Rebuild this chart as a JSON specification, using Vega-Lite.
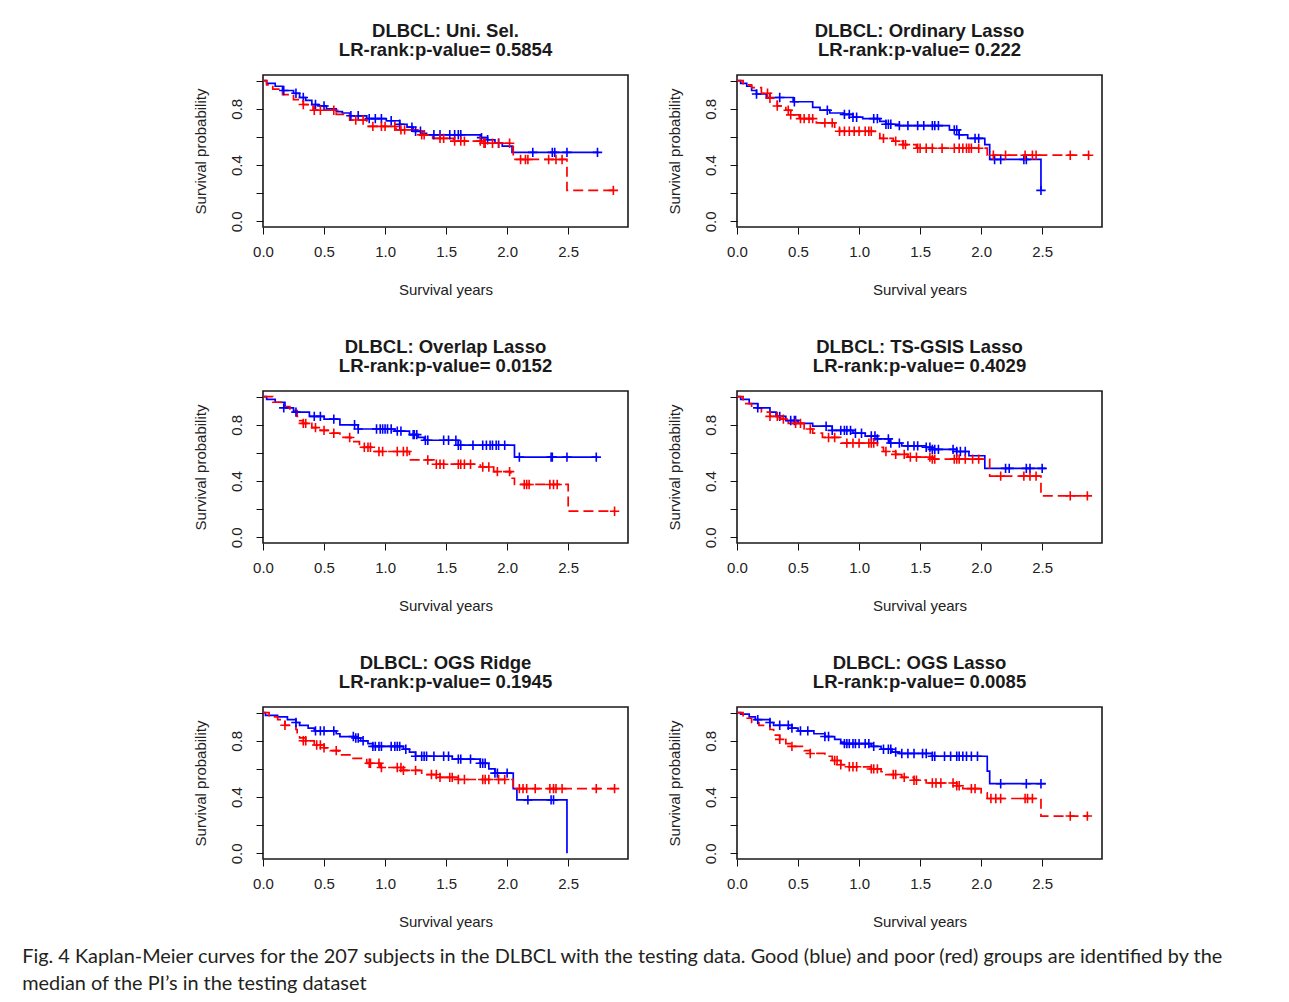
{
  "$schema": "https://vega.github.io/schema/vega-lite/v6.json",
  "background": "white",
  "padding": {"left": 22, "top": 21, "right": 5, "bottom": 10},
  "title": {
    "text": ["Fig. 4 Kaplan-Meier curves for the 207 subjects in the DLBCL with the testing data. Good (blue) and poor (red) groups are identified by the", "median of the PI’s in the testing dataset"],
    "orient": "bottom", "anchor": "start", "frame": "bounds", "dx": -170.5, "offset": 17,
    "font": "Lato", "fontSize": 19.9, "fontWeight": "normal", "color": "#231f20", "lineHeight": 27
  },
  "datasets": {
    "km": [
      {"p":"A","g":"G","t":0,"s":1},{"p":"A","g":"G","t":0.03,"s":0.98},{"p":"A","g":"G","t":0.1,"s":0.96},{"p":"A","g":"G","t":0.16,"s":0.93},{"p":"A","g":"G","t":0.25,"s":0.91},{"p":"A","g":"G","t":0.3,"s":0.88},{"p":"A","g":"G","t":0.35,"s":0.86},{"p":"A","g":"G","t":0.4,"s":0.83},{"p":"A","g":"G","t":0.45,"s":0.82},{"p":"A","g":"G","t":0.52,"s":0.8},{"p":"A","g":"G","t":0.6,"s":0.78},{"p":"A","g":"G","t":0.65,"s":0.77},{"p":"A","g":"G","t":0.71,"s":0.75},{"p":"A","g":"G","t":0.85,"s":0.73},{"p":"A","g":"G","t":1.01,"s":0.715},{"p":"A","g":"G","t":1.12,"s":0.69},{"p":"A","g":"G","t":1.18,"s":0.67},{"p":"A","g":"G","t":1.23,"s":0.64},{"p":"A","g":"G","t":1.3,"s":0.625},{"p":"A","g":"G","t":1.34,"s":0.615},{"p":"A","g":"G","t":1.78,"s":0.595},{"p":"A","g":"G","t":1.84,"s":0.58},{"p":"A","g":"G","t":1.9,"s":0.555},{"p":"A","g":"G","t":1.96,"s":0.535},{"p":"A","g":"G","t":2.04,"s":0.49},{"p":"A","g":"G","t":2.75,"s":0.49},
      {"p":"A","g":"P","t":0,"s":1},{"p":"A","g":"P","t":0.03,"s":0.97},{"p":"A","g":"P","t":0.08,"s":0.94},{"p":"A","g":"P","t":0.16,"s":0.9},{"p":"A","g":"P","t":0.25,"s":0.865},{"p":"A","g":"P","t":0.33,"s":0.83},{"p":"A","g":"P","t":0.41,"s":0.79},{"p":"A","g":"P","t":0.6,"s":0.76},{"p":"A","g":"P","t":0.71,"s":0.72},{"p":"A","g":"P","t":0.85,"s":0.675},{"p":"A","g":"P","t":1.09,"s":0.65},{"p":"A","g":"P","t":1.28,"s":0.615},{"p":"A","g":"P","t":1.39,"s":0.59},{"p":"A","g":"P","t":1.56,"s":0.57},{"p":"A","g":"P","t":1.8,"s":0.555},{"p":"A","g":"P","t":2.05,"s":0.44},{"p":"A","g":"P","t":2.49,"s":0.22},{"p":"A","g":"P","t":2.87,"s":0.22},
      {"p":"B","g":"G","t":0,"s":1},{"p":"B","g":"G","t":0.03,"s":0.98},{"p":"B","g":"G","t":0.08,"s":0.96},{"p":"B","g":"G","t":0.12,"s":0.93},{"p":"B","g":"G","t":0.16,"s":0.905},{"p":"B","g":"G","t":0.24,"s":0.88},{"p":"B","g":"G","t":0.46,"s":0.85},{"p":"B","g":"G","t":0.62,"s":0.81},{"p":"B","g":"G","t":0.68,"s":0.79},{"p":"B","g":"G","t":0.76,"s":0.77},{"p":"B","g":"G","t":0.87,"s":0.76},{"p":"B","g":"G","t":0.95,"s":0.74},{"p":"B","g":"G","t":1.03,"s":0.73},{"p":"B","g":"G","t":1.17,"s":0.71},{"p":"B","g":"G","t":1.22,"s":0.69},{"p":"B","g":"G","t":1.33,"s":0.68},{"p":"B","g":"G","t":1.74,"s":0.65},{"p":"B","g":"G","t":1.82,"s":0.615},{"p":"B","g":"G","t":1.89,"s":0.59},{"p":"B","g":"G","t":2.03,"s":0.545},{"p":"B","g":"G","t":2.07,"s":0.44},{"p":"B","g":"G","t":2.49,"s":0.22},
      {"p":"B","g":"P","t":0,"s":1},{"p":"B","g":"P","t":0.05,"s":0.97},{"p":"B","g":"P","t":0.12,"s":0.95},{"p":"B","g":"P","t":0.2,"s":0.91},{"p":"B","g":"P","t":0.27,"s":0.875},{"p":"B","g":"P","t":0.33,"s":0.82},{"p":"B","g":"P","t":0.4,"s":0.79},{"p":"B","g":"P","t":0.44,"s":0.757},{"p":"B","g":"P","t":0.51,"s":0.73},{"p":"B","g":"P","t":0.65,"s":0.7},{"p":"B","g":"P","t":0.8,"s":0.67},{"p":"B","g":"P","t":0.84,"s":0.64},{"p":"B","g":"P","t":1.17,"s":0.59},{"p":"B","g":"P","t":1.28,"s":0.57},{"p":"B","g":"P","t":1.36,"s":0.545},{"p":"B","g":"P","t":1.47,"s":0.52},{"p":"B","g":"P","t":2.05,"s":0.47},{"p":"B","g":"P","t":2.88,"s":0.47},
      {"p":"C","g":"G","t":0,"s":1},{"p":"C","g":"G","t":0.03,"s":0.98},{"p":"C","g":"G","t":0.1,"s":0.96},{"p":"C","g":"G","t":0.18,"s":0.92},{"p":"C","g":"G","t":0.25,"s":0.89},{"p":"C","g":"G","t":0.38,"s":0.86},{"p":"C","g":"G","t":0.5,"s":0.84},{"p":"C","g":"G","t":0.63,"s":0.8},{"p":"C","g":"G","t":0.78,"s":0.77},{"p":"C","g":"G","t":1.08,"s":0.755},{"p":"C","g":"G","t":1.2,"s":0.73},{"p":"C","g":"G","t":1.27,"s":0.71},{"p":"C","g":"G","t":1.32,"s":0.69},{"p":"C","g":"G","t":1.6,"s":0.655},{"p":"C","g":"G","t":2.06,"s":0.57},{"p":"C","g":"G","t":2.74,"s":0.57},
      {"p":"C","g":"P","t":0,"s":1},{"p":"C","g":"P","t":0.08,"s":0.96},{"p":"C","g":"P","t":0.15,"s":0.93},{"p":"C","g":"P","t":0.22,"s":0.9},{"p":"C","g":"P","t":0.28,"s":0.86},{"p":"C","g":"P","t":0.3,"s":0.83},{"p":"C","g":"P","t":0.33,"s":0.81},{"p":"C","g":"P","t":0.4,"s":0.78},{"p":"C","g":"P","t":0.47,"s":0.76},{"p":"C","g":"P","t":0.55,"s":0.74},{"p":"C","g":"P","t":0.63,"s":0.71},{"p":"C","g":"P","t":0.72,"s":0.68},{"p":"C","g":"P","t":0.79,"s":0.64},{"p":"C","g":"P","t":0.9,"s":0.61},{"p":"C","g":"P","t":1.2,"s":0.55},{"p":"C","g":"P","t":1.4,"s":0.52},{"p":"C","g":"P","t":1.78,"s":0.5},{"p":"C","g":"P","t":1.89,"s":0.467},{"p":"C","g":"P","t":2.03,"s":0.42},{"p":"C","g":"P","t":2.06,"s":0.376},{"p":"C","g":"P","t":2.5,"s":0.186},{"p":"C","g":"P","t":2.88,"s":0.186},
      {"p":"D","g":"G","t":0,"s":1},{"p":"D","g":"G","t":0.03,"s":0.98},{"p":"D","g":"G","t":0.1,"s":0.95},{"p":"D","g":"G","t":0.17,"s":0.92},{"p":"D","g":"G","t":0.27,"s":0.89},{"p":"D","g":"G","t":0.32,"s":0.86},{"p":"D","g":"G","t":0.4,"s":0.83},{"p":"D","g":"G","t":0.5,"s":0.81},{"p":"D","g":"G","t":0.62,"s":0.79},{"p":"D","g":"G","t":0.78,"s":0.76},{"p":"D","g":"G","t":0.95,"s":0.74},{"p":"D","g":"G","t":1.05,"s":0.72},{"p":"D","g":"G","t":1.15,"s":0.7},{"p":"D","g":"G","t":1.25,"s":0.67},{"p":"D","g":"G","t":1.35,"s":0.65},{"p":"D","g":"G","t":1.55,"s":0.64},{"p":"D","g":"G","t":1.6,"s":0.625},{"p":"D","g":"G","t":1.8,"s":0.61},{"p":"D","g":"G","t":1.9,"s":0.58},{"p":"D","g":"G","t":2.03,"s":0.49},{"p":"D","g":"G","t":2.53,"s":0.49},
      {"p":"D","g":"P","t":0,"s":1},{"p":"D","g":"P","t":0.05,"s":0.95},{"p":"D","g":"P","t":0.12,"s":0.92},{"p":"D","g":"P","t":0.2,"s":0.89},{"p":"D","g":"P","t":0.27,"s":0.86},{"p":"D","g":"P","t":0.35,"s":0.84},{"p":"D","g":"P","t":0.42,"s":0.81},{"p":"D","g":"P","t":0.55,"s":0.77},{"p":"D","g":"P","t":0.62,"s":0.74},{"p":"D","g":"P","t":0.7,"s":0.71},{"p":"D","g":"P","t":0.85,"s":0.67},{"p":"D","g":"P","t":1.15,"s":0.64},{"p":"D","g":"P","t":1.2,"s":0.61},{"p":"D","g":"P","t":1.3,"s":0.59},{"p":"D","g":"P","t":1.4,"s":0.57},{"p":"D","g":"P","t":1.6,"s":0.556},{"p":"D","g":"P","t":2.07,"s":0.435},{"p":"D","g":"P","t":2.49,"s":0.295},{"p":"D","g":"P","t":2.87,"s":0.295},
      {"p":"E","g":"G","t":0,"s":1},{"p":"E","g":"G","t":0.02,"s":0.98},{"p":"E","g":"G","t":0.12,"s":0.97},{"p":"E","g":"G","t":0.2,"s":0.95},{"p":"E","g":"G","t":0.27,"s":0.93},{"p":"E","g":"G","t":0.3,"s":0.91},{"p":"E","g":"G","t":0.37,"s":0.89},{"p":"E","g":"G","t":0.42,"s":0.87},{"p":"E","g":"G","t":0.6,"s":0.85},{"p":"E","g":"G","t":0.63,"s":0.83},{"p":"E","g":"G","t":0.75,"s":0.82},{"p":"E","g":"G","t":0.8,"s":0.8},{"p":"E","g":"G","t":0.86,"s":0.78},{"p":"E","g":"G","t":0.9,"s":0.76},{"p":"E","g":"G","t":1.15,"s":0.74},{"p":"E","g":"G","t":1.2,"s":0.72},{"p":"E","g":"G","t":1.25,"s":0.69},{"p":"E","g":"G","t":1.55,"s":0.67},{"p":"E","g":"G","t":1.78,"s":0.64},{"p":"E","g":"G","t":1.85,"s":0.6},{"p":"E","g":"G","t":1.9,"s":0.57},{"p":"E","g":"G","t":2.05,"s":0.46},{"p":"E","g":"G","t":2.08,"s":0.38},{"p":"E","g":"G","t":2.49,"s":0},
      {"p":"E","g":"P","t":0,"s":1},{"p":"E","g":"P","t":0.05,"s":0.97},{"p":"E","g":"P","t":0.12,"s":0.95},{"p":"E","g":"P","t":0.18,"s":0.91},{"p":"E","g":"P","t":0.27,"s":0.88},{"p":"E","g":"P","t":0.28,"s":0.85},{"p":"E","g":"P","t":0.3,"s":0.82},{"p":"E","g":"P","t":0.35,"s":0.8},{"p":"E","g":"P","t":0.42,"s":0.77},{"p":"E","g":"P","t":0.5,"s":0.75},{"p":"E","g":"P","t":0.55,"s":0.73},{"p":"E","g":"P","t":0.62,"s":0.7},{"p":"E","g":"P","t":0.72,"s":0.675},{"p":"E","g":"P","t":0.85,"s":0.64},{"p":"E","g":"P","t":0.96,"s":0.61},{"p":"E","g":"P","t":1.15,"s":0.59},{"p":"E","g":"P","t":1.3,"s":0.56},{"p":"E","g":"P","t":1.45,"s":0.54},{"p":"E","g":"P","t":1.6,"s":0.525},{"p":"E","g":"P","t":2.05,"s":0.46},{"p":"E","g":"P","t":2.88,"s":0.46},
      {"p":"F","g":"G","t":0,"s":1},{"p":"F","g":"G","t":0.03,"s":0.99},{"p":"F","g":"G","t":0.1,"s":0.97},{"p":"F","g":"G","t":0.15,"s":0.95},{"p":"F","g":"G","t":0.27,"s":0.93},{"p":"F","g":"G","t":0.3,"s":0.91},{"p":"F","g":"G","t":0.45,"s":0.89},{"p":"F","g":"G","t":0.5,"s":0.87},{"p":"F","g":"G","t":0.63,"s":0.85},{"p":"F","g":"G","t":0.72,"s":0.83},{"p":"F","g":"G","t":0.8,"s":0.81},{"p":"F","g":"G","t":0.85,"s":0.79},{"p":"F","g":"G","t":0.88,"s":0.78},{"p":"F","g":"G","t":1.1,"s":0.76},{"p":"F","g":"G","t":1.18,"s":0.74},{"p":"F","g":"G","t":1.27,"s":0.72},{"p":"F","g":"G","t":1.33,"s":0.71},{"p":"F","g":"G","t":1.6,"s":0.69},{"p":"F","g":"G","t":2.05,"s":0.585},{"p":"F","g":"G","t":2.07,"s":0.495},{"p":"F","g":"G","t":2.53,"s":0.495},
      {"p":"F","g":"P","t":0,"s":1},{"p":"F","g":"P","t":0.05,"s":0.96},{"p":"F","g":"P","t":0.12,"s":0.93},{"p":"F","g":"P","t":0.18,"s":0.91},{"p":"F","g":"P","t":0.27,"s":0.88},{"p":"F","g":"P","t":0.3,"s":0.84},{"p":"F","g":"P","t":0.35,"s":0.81},{"p":"F","g":"P","t":0.4,"s":0.78},{"p":"F","g":"P","t":0.45,"s":0.76},{"p":"F","g":"P","t":0.55,"s":0.73},{"p":"F","g":"P","t":0.6,"s":0.71},{"p":"F","g":"P","t":0.72,"s":0.69},{"p":"F","g":"P","t":0.78,"s":0.66},{"p":"F","g":"P","t":0.85,"s":0.63},{"p":"F","g":"P","t":0.9,"s":0.615},{"p":"F","g":"P","t":1.1,"s":0.6},{"p":"F","g":"P","t":1.18,"s":0.58},{"p":"F","g":"P","t":1.22,"s":0.56},{"p":"F","g":"P","t":1.35,"s":0.54},{"p":"F","g":"P","t":1.45,"s":0.52},{"p":"F","g":"P","t":1.55,"s":0.5},{"p":"F","g":"P","t":1.8,"s":0.48},{"p":"F","g":"P","t":1.85,"s":0.46},{"p":"F","g":"P","t":2.0,"s":0.43},{"p":"F","g":"P","t":2.05,"s":0.39},{"p":"F","g":"P","t":2.49,"s":0.265},{"p":"F","g":"P","t":2.88,"s":0.265}
    ],
    "cens": [
      {"p":"A","g":"G","t":0.17,"s":0.93},{"p":"A","g":"G","t":0.27,"s":0.91},{"p":"A","g":"G","t":0.33,"s":0.88},{"p":"A","g":"G","t":0.43,"s":0.83},{"p":"A","g":"G","t":0.5,"s":0.82},{"p":"A","g":"G","t":0.72,"s":0.75},{"p":"A","g":"G","t":0.78,"s":0.75},{"p":"A","g":"G","t":0.87,"s":0.73},{"p":"A","g":"G","t":0.92,"s":0.73},{"p":"A","g":"G","t":0.97,"s":0.73},{"p":"A","g":"G","t":1.05,"s":0.715},{"p":"A","g":"G","t":1.12,"s":0.69},{"p":"A","g":"G","t":1.22,"s":0.67},{"p":"A","g":"G","t":1.25,"s":0.64},{"p":"A","g":"G","t":1.29,"s":0.64},{"p":"A","g":"G","t":1.4,"s":0.615},{"p":"A","g":"G","t":1.45,"s":0.615},{"p":"A","g":"G","t":1.53,"s":0.615},{"p":"A","g":"G","t":1.57,"s":0.615},{"p":"A","g":"G","t":1.6,"s":0.615},{"p":"A","g":"G","t":1.62,"s":0.615},{"p":"A","g":"G","t":1.79,"s":0.595},{"p":"A","g":"G","t":1.84,"s":0.58},{"p":"A","g":"G","t":1.93,"s":0.555},{"p":"A","g":"G","t":2.21,"s":0.49},{"p":"A","g":"G","t":2.37,"s":0.49},{"p":"A","g":"G","t":2.39,"s":0.49},{"p":"A","g":"G","t":2.49,"s":0.49},{"p":"A","g":"G","t":2.74,"s":0.49},
      {"p":"A","g":"P","t":0.33,"s":0.83},{"p":"A","g":"P","t":0.42,"s":0.79},{"p":"A","g":"P","t":0.47,"s":0.79},{"p":"A","g":"P","t":0.58,"s":0.79},{"p":"A","g":"P","t":0.76,"s":0.72},{"p":"A","g":"P","t":0.82,"s":0.72},{"p":"A","g":"P","t":0.9,"s":0.675},{"p":"A","g":"P","t":0.97,"s":0.675},{"p":"A","g":"P","t":1.0,"s":0.675},{"p":"A","g":"P","t":1.08,"s":0.675},{"p":"A","g":"P","t":1.13,"s":0.65},{"p":"A","g":"P","t":1.16,"s":0.65},{"p":"A","g":"P","t":1.3,"s":0.615},{"p":"A","g":"P","t":1.32,"s":0.615},{"p":"A","g":"P","t":1.45,"s":0.59},{"p":"A","g":"P","t":1.48,"s":0.59},{"p":"A","g":"P","t":1.57,"s":0.57},{"p":"A","g":"P","t":1.62,"s":0.57},{"p":"A","g":"P","t":1.65,"s":0.57},{"p":"A","g":"P","t":1.78,"s":0.57},{"p":"A","g":"P","t":1.81,"s":0.555},{"p":"A","g":"P","t":1.82,"s":0.555},{"p":"A","g":"P","t":1.88,"s":0.555},{"p":"A","g":"P","t":1.93,"s":0.555},{"p":"A","g":"P","t":2.02,"s":0.555},{"p":"A","g":"P","t":2.11,"s":0.44},{"p":"A","g":"P","t":2.15,"s":0.44},{"p":"A","g":"P","t":2.17,"s":0.44},{"p":"A","g":"P","t":2.34,"s":0.44},{"p":"A","g":"P","t":2.4,"s":0.44},{"p":"A","g":"P","t":2.45,"s":0.44},{"p":"A","g":"P","t":2.87,"s":0.22},
      {"p":"B","g":"G","t":0.16,"s":0.905},{"p":"B","g":"G","t":0.35,"s":0.88},{"p":"B","g":"G","t":0.47,"s":0.85},{"p":"B","g":"G","t":0.74,"s":0.79},{"p":"B","g":"G","t":0.88,"s":0.76},{"p":"B","g":"G","t":0.92,"s":0.76},{"p":"B","g":"G","t":0.95,"s":0.74},{"p":"B","g":"G","t":0.98,"s":0.74},{"p":"B","g":"G","t":1.12,"s":0.73},{"p":"B","g":"G","t":1.15,"s":0.73},{"p":"B","g":"G","t":1.22,"s":0.69},{"p":"B","g":"G","t":1.24,"s":0.69},{"p":"B","g":"G","t":1.26,"s":0.69},{"p":"B","g":"G","t":1.33,"s":0.68},{"p":"B","g":"G","t":1.4,"s":0.68},{"p":"B","g":"G","t":1.48,"s":0.68},{"p":"B","g":"G","t":1.53,"s":0.68},{"p":"B","g":"G","t":1.6,"s":0.68},{"p":"B","g":"G","t":1.62,"s":0.68},{"p":"B","g":"G","t":1.65,"s":0.68},{"p":"B","g":"G","t":1.78,"s":0.65},{"p":"B","g":"G","t":1.8,"s":0.65},{"p":"B","g":"G","t":1.82,"s":0.615},{"p":"B","g":"G","t":1.95,"s":0.59},{"p":"B","g":"G","t":1.98,"s":0.59},{"p":"B","g":"G","t":2.11,"s":0.44},{"p":"B","g":"G","t":2.16,"s":0.44},{"p":"B","g":"G","t":2.35,"s":0.44},{"p":"B","g":"G","t":2.37,"s":0.44},{"p":"B","g":"G","t":2.49,"s":0.22},
      {"p":"B","g":"P","t":0.25,"s":0.91},{"p":"B","g":"P","t":0.27,"s":0.875},{"p":"B","g":"P","t":0.33,"s":0.82},{"p":"B","g":"P","t":0.42,"s":0.79},{"p":"B","g":"P","t":0.44,"s":0.757},{"p":"B","g":"P","t":0.52,"s":0.73},{"p":"B","g":"P","t":0.55,"s":0.73},{"p":"B","g":"P","t":0.59,"s":0.73},{"p":"B","g":"P","t":0.62,"s":0.73},{"p":"B","g":"P","t":0.72,"s":0.7},{"p":"B","g":"P","t":0.78,"s":0.7},{"p":"B","g":"P","t":0.84,"s":0.64},{"p":"B","g":"P","t":0.88,"s":0.64},{"p":"B","g":"P","t":0.92,"s":0.64},{"p":"B","g":"P","t":0.96,"s":0.64},{"p":"B","g":"P","t":1.0,"s":0.64},{"p":"B","g":"P","t":1.05,"s":0.64},{"p":"B","g":"P","t":1.08,"s":0.64},{"p":"B","g":"P","t":1.1,"s":0.64},{"p":"B","g":"P","t":1.2,"s":0.59},{"p":"B","g":"P","t":1.3,"s":0.57},{"p":"B","g":"P","t":1.36,"s":0.545},{"p":"B","g":"P","t":1.38,"s":0.545},{"p":"B","g":"P","t":1.48,"s":0.52},{"p":"B","g":"P","t":1.5,"s":0.52},{"p":"B","g":"P","t":1.55,"s":0.52},{"p":"B","g":"P","t":1.6,"s":0.52},{"p":"B","g":"P","t":1.68,"s":0.52},{"p":"B","g":"P","t":1.78,"s":0.52},{"p":"B","g":"P","t":1.82,"s":0.52},{"p":"B","g":"P","t":1.85,"s":0.52},{"p":"B","g":"P","t":1.88,"s":0.52},{"p":"B","g":"P","t":1.9,"s":0.52},{"p":"B","g":"P","t":1.92,"s":0.52},{"p":"B","g":"P","t":1.98,"s":0.52},{"p":"B","g":"P","t":2.1,"s":0.47},{"p":"B","g":"P","t":2.2,"s":0.47},{"p":"B","g":"P","t":2.36,"s":0.47},{"p":"B","g":"P","t":2.42,"s":0.47},{"p":"B","g":"P","t":2.45,"s":0.47},{"p":"B","g":"P","t":2.73,"s":0.47},{"p":"B","g":"P","t":2.88,"s":0.47},
      {"p":"C","g":"G","t":0.17,"s":0.92},{"p":"C","g":"G","t":0.27,"s":0.89},{"p":"C","g":"G","t":0.42,"s":0.86},{"p":"C","g":"G","t":0.47,"s":0.86},{"p":"C","g":"G","t":0.58,"s":0.84},{"p":"C","g":"G","t":0.75,"s":0.8},{"p":"C","g":"G","t":0.78,"s":0.77},{"p":"C","g":"G","t":0.93,"s":0.77},{"p":"C","g":"G","t":0.96,"s":0.77},{"p":"C","g":"G","t":0.98,"s":0.77},{"p":"C","g":"G","t":1.0,"s":0.77},{"p":"C","g":"G","t":1.02,"s":0.77},{"p":"C","g":"G","t":1.05,"s":0.77},{"p":"C","g":"G","t":1.1,"s":0.755},{"p":"C","g":"G","t":1.13,"s":0.755},{"p":"C","g":"G","t":1.23,"s":0.73},{"p":"C","g":"G","t":1.24,"s":0.73},{"p":"C","g":"G","t":1.26,"s":0.73},{"p":"C","g":"G","t":1.33,"s":0.69},{"p":"C","g":"G","t":1.35,"s":0.69},{"p":"C","g":"G","t":1.48,"s":0.69},{"p":"C","g":"G","t":1.52,"s":0.69},{"p":"C","g":"G","t":1.58,"s":0.69},{"p":"C","g":"G","t":1.6,"s":0.655},{"p":"C","g":"G","t":1.62,"s":0.655},{"p":"C","g":"G","t":1.72,"s":0.655},{"p":"C","g":"G","t":1.8,"s":0.655},{"p":"C","g":"G","t":1.83,"s":0.655},{"p":"C","g":"G","t":1.86,"s":0.655},{"p":"C","g":"G","t":1.88,"s":0.655},{"p":"C","g":"G","t":1.91,"s":0.655},{"p":"C","g":"G","t":1.93,"s":0.655},{"p":"C","g":"G","t":1.98,"s":0.655},{"p":"C","g":"G","t":2.1,"s":0.57},{"p":"C","g":"G","t":2.36,"s":0.57},{"p":"C","g":"G","t":2.37,"s":0.57},{"p":"C","g":"G","t":2.49,"s":0.57},{"p":"C","g":"G","t":2.73,"s":0.57},
      {"p":"C","g":"P","t":0.33,"s":0.81},{"p":"C","g":"P","t":0.35,"s":0.81},{"p":"C","g":"P","t":0.43,"s":0.78},{"p":"C","g":"P","t":0.5,"s":0.76},{"p":"C","g":"P","t":0.58,"s":0.74},{"p":"C","g":"P","t":0.71,"s":0.71},{"p":"C","g":"P","t":0.83,"s":0.64},{"p":"C","g":"P","t":0.86,"s":0.64},{"p":"C","g":"P","t":0.88,"s":0.64},{"p":"C","g":"P","t":0.95,"s":0.61},{"p":"C","g":"P","t":0.98,"s":0.61},{"p":"C","g":"P","t":1.1,"s":0.61},{"p":"C","g":"P","t":1.15,"s":0.61},{"p":"C","g":"P","t":1.18,"s":0.61},{"p":"C","g":"P","t":1.35,"s":0.55},{"p":"C","g":"P","t":1.42,"s":0.52},{"p":"C","g":"P","t":1.45,"s":0.52},{"p":"C","g":"P","t":1.48,"s":0.52},{"p":"C","g":"P","t":1.6,"s":0.52},{"p":"C","g":"P","t":1.62,"s":0.52},{"p":"C","g":"P","t":1.65,"s":0.52},{"p":"C","g":"P","t":1.7,"s":0.52},{"p":"C","g":"P","t":1.8,"s":0.5},{"p":"C","g":"P","t":1.85,"s":0.5},{"p":"C","g":"P","t":1.92,"s":0.467},{"p":"C","g":"P","t":2.02,"s":0.467},{"p":"C","g":"P","t":2.14,"s":0.376},{"p":"C","g":"P","t":2.16,"s":0.376},{"p":"C","g":"P","t":2.18,"s":0.376},{"p":"C","g":"P","t":2.35,"s":0.376},{"p":"C","g":"P","t":2.38,"s":0.376},{"p":"C","g":"P","t":2.41,"s":0.376},{"p":"C","g":"P","t":2.88,"s":0.186},
      {"p":"D","g":"G","t":0.17,"s":0.92},{"p":"D","g":"G","t":0.35,"s":0.86},{"p":"D","g":"G","t":0.44,"s":0.83},{"p":"D","g":"G","t":0.47,"s":0.83},{"p":"D","g":"G","t":0.48,"s":0.83},{"p":"D","g":"G","t":0.73,"s":0.79},{"p":"D","g":"G","t":0.78,"s":0.76},{"p":"D","g":"G","t":0.85,"s":0.76},{"p":"D","g":"G","t":0.88,"s":0.76},{"p":"D","g":"G","t":0.9,"s":0.76},{"p":"D","g":"G","t":0.93,"s":0.76},{"p":"D","g":"G","t":0.97,"s":0.74},{"p":"D","g":"G","t":1.02,"s":0.74},{"p":"D","g":"G","t":1.1,"s":0.72},{"p":"D","g":"G","t":1.13,"s":0.72},{"p":"D","g":"G","t":1.15,"s":0.7},{"p":"D","g":"G","t":1.24,"s":0.7},{"p":"D","g":"G","t":1.26,"s":0.67},{"p":"D","g":"G","t":1.33,"s":0.67},{"p":"D","g":"G","t":1.4,"s":0.65},{"p":"D","g":"G","t":1.45,"s":0.65},{"p":"D","g":"G","t":1.48,"s":0.65},{"p":"D","g":"G","t":1.55,"s":0.64},{"p":"D","g":"G","t":1.58,"s":0.64},{"p":"D","g":"G","t":1.6,"s":0.625},{"p":"D","g":"G","t":1.62,"s":0.625},{"p":"D","g":"G","t":1.65,"s":0.625},{"p":"D","g":"G","t":1.77,"s":0.625},{"p":"D","g":"G","t":1.8,"s":0.61},{"p":"D","g":"G","t":1.83,"s":0.61},{"p":"D","g":"G","t":1.87,"s":0.61},{"p":"D","g":"G","t":2.2,"s":0.49},{"p":"D","g":"G","t":2.23,"s":0.49},{"p":"D","g":"G","t":2.37,"s":0.49},{"p":"D","g":"G","t":2.4,"s":0.49},{"p":"D","g":"G","t":2.5,"s":0.49},
      {"p":"D","g":"P","t":0.27,"s":0.86},{"p":"D","g":"P","t":0.33,"s":0.86},{"p":"D","g":"P","t":0.38,"s":0.84},{"p":"D","g":"P","t":0.48,"s":0.81},{"p":"D","g":"P","t":0.52,"s":0.81},{"p":"D","g":"P","t":0.6,"s":0.77},{"p":"D","g":"P","t":0.75,"s":0.71},{"p":"D","g":"P","t":0.8,"s":0.71},{"p":"D","g":"P","t":0.9,"s":0.67},{"p":"D","g":"P","t":0.95,"s":0.67},{"p":"D","g":"P","t":1.0,"s":0.67},{"p":"D","g":"P","t":1.08,"s":0.67},{"p":"D","g":"P","t":1.1,"s":0.67},{"p":"D","g":"P","t":1.12,"s":0.67},{"p":"D","g":"P","t":1.22,"s":0.61},{"p":"D","g":"P","t":1.3,"s":0.59},{"p":"D","g":"P","t":1.37,"s":0.59},{"p":"D","g":"P","t":1.42,"s":0.57},{"p":"D","g":"P","t":1.47,"s":0.57},{"p":"D","g":"P","t":1.58,"s":0.57},{"p":"D","g":"P","t":1.6,"s":0.556},{"p":"D","g":"P","t":1.62,"s":0.556},{"p":"D","g":"P","t":1.78,"s":0.556},{"p":"D","g":"P","t":1.8,"s":0.556},{"p":"D","g":"P","t":1.82,"s":0.556},{"p":"D","g":"P","t":1.87,"s":0.556},{"p":"D","g":"P","t":1.93,"s":0.556},{"p":"D","g":"P","t":1.98,"s":0.556},{"p":"D","g":"P","t":2.16,"s":0.435},{"p":"D","g":"P","t":2.35,"s":0.435},{"p":"D","g":"P","t":2.4,"s":0.435},{"p":"D","g":"P","t":2.45,"s":0.435},{"p":"D","g":"P","t":2.73,"s":0.295},{"p":"D","g":"P","t":2.87,"s":0.295},
      {"p":"E","g":"G","t":0.27,"s":0.93},{"p":"E","g":"G","t":0.43,"s":0.87},{"p":"E","g":"G","t":0.47,"s":0.87},{"p":"E","g":"G","t":0.5,"s":0.87},{"p":"E","g":"G","t":0.58,"s":0.87},{"p":"E","g":"G","t":0.74,"s":0.83},{"p":"E","g":"G","t":0.76,"s":0.82},{"p":"E","g":"G","t":0.78,"s":0.82},{"p":"E","g":"G","t":0.82,"s":0.8},{"p":"E","g":"G","t":0.9,"s":0.76},{"p":"E","g":"G","t":0.92,"s":0.76},{"p":"E","g":"G","t":0.95,"s":0.76},{"p":"E","g":"G","t":0.97,"s":0.76},{"p":"E","g":"G","t":1.05,"s":0.76},{"p":"E","g":"G","t":1.08,"s":0.76},{"p":"E","g":"G","t":1.1,"s":0.76},{"p":"E","g":"G","t":1.12,"s":0.76},{"p":"E","g":"G","t":1.17,"s":0.74},{"p":"E","g":"G","t":1.25,"s":0.69},{"p":"E","g":"G","t":1.3,"s":0.69},{"p":"E","g":"G","t":1.32,"s":0.69},{"p":"E","g":"G","t":1.34,"s":0.69},{"p":"E","g":"G","t":1.4,"s":0.69},{"p":"E","g":"G","t":1.48,"s":0.69},{"p":"E","g":"G","t":1.52,"s":0.69},{"p":"E","g":"G","t":1.6,"s":0.67},{"p":"E","g":"G","t":1.62,"s":0.67},{"p":"E","g":"G","t":1.7,"s":0.67},{"p":"E","g":"G","t":1.78,"s":0.64},{"p":"E","g":"G","t":1.8,"s":0.64},{"p":"E","g":"G","t":1.82,"s":0.64},{"p":"E","g":"G","t":1.9,"s":0.57},{"p":"E","g":"G","t":1.92,"s":0.57},{"p":"E","g":"G","t":2.0,"s":0.57},{"p":"E","g":"G","t":2.17,"s":0.38},{"p":"E","g":"G","t":2.36,"s":0.38},{"p":"E","g":"G","t":2.38,"s":0.38},
      {"p":"E","g":"P","t":0.18,"s":0.91},{"p":"E","g":"P","t":0.33,"s":0.8},{"p":"E","g":"P","t":0.35,"s":0.8},{"p":"E","g":"P","t":0.44,"s":0.77},{"p":"E","g":"P","t":0.47,"s":0.77},{"p":"E","g":"P","t":0.5,"s":0.75},{"p":"E","g":"P","t":0.6,"s":0.73},{"p":"E","g":"P","t":0.87,"s":0.64},{"p":"E","g":"P","t":0.88,"s":0.64},{"p":"E","g":"P","t":0.95,"s":0.64},{"p":"E","g":"P","t":0.97,"s":0.61},{"p":"E","g":"P","t":1.1,"s":0.61},{"p":"E","g":"P","t":1.13,"s":0.61},{"p":"E","g":"P","t":1.15,"s":0.59},{"p":"E","g":"P","t":1.25,"s":0.59},{"p":"E","g":"P","t":1.38,"s":0.56},{"p":"E","g":"P","t":1.42,"s":0.56},{"p":"E","g":"P","t":1.45,"s":0.54},{"p":"E","g":"P","t":1.53,"s":0.54},{"p":"E","g":"P","t":1.55,"s":0.54},{"p":"E","g":"P","t":1.6,"s":0.525},{"p":"E","g":"P","t":1.65,"s":0.525},{"p":"E","g":"P","t":1.8,"s":0.525},{"p":"E","g":"P","t":1.82,"s":0.525},{"p":"E","g":"P","t":1.85,"s":0.525},{"p":"E","g":"P","t":1.93,"s":0.525},{"p":"E","g":"P","t":1.98,"s":0.525},{"p":"E","g":"P","t":2.1,"s":0.46},{"p":"E","g":"P","t":2.13,"s":0.46},{"p":"E","g":"P","t":2.16,"s":0.46},{"p":"E","g":"P","t":2.23,"s":0.46},{"p":"E","g":"P","t":2.35,"s":0.46},{"p":"E","g":"P","t":2.38,"s":0.46},{"p":"E","g":"P","t":2.4,"s":0.46},{"p":"E","g":"P","t":2.45,"s":0.46},{"p":"E","g":"P","t":2.73,"s":0.46},{"p":"E","g":"P","t":2.88,"s":0.46},
      {"p":"F","g":"G","t":0.17,"s":0.95},{"p":"F","g":"G","t":0.27,"s":0.93},{"p":"F","g":"G","t":0.35,"s":0.91},{"p":"F","g":"G","t":0.42,"s":0.91},{"p":"F","g":"G","t":0.45,"s":0.89},{"p":"F","g":"G","t":0.52,"s":0.87},{"p":"F","g":"G","t":0.58,"s":0.87},{"p":"F","g":"G","t":0.72,"s":0.83},{"p":"F","g":"G","t":0.75,"s":0.83},{"p":"F","g":"G","t":0.88,"s":0.78},{"p":"F","g":"G","t":0.9,"s":0.78},{"p":"F","g":"G","t":0.92,"s":0.78},{"p":"F","g":"G","t":0.95,"s":0.78},{"p":"F","g":"G","t":0.97,"s":0.78},{"p":"F","g":"G","t":1.0,"s":0.78},{"p":"F","g":"G","t":1.05,"s":0.78},{"p":"F","g":"G","t":1.08,"s":0.78},{"p":"F","g":"G","t":1.12,"s":0.76},{"p":"F","g":"G","t":1.2,"s":0.74},{"p":"F","g":"G","t":1.24,"s":0.74},{"p":"F","g":"G","t":1.26,"s":0.74},{"p":"F","g":"G","t":1.3,"s":0.72},{"p":"F","g":"G","t":1.35,"s":0.71},{"p":"F","g":"G","t":1.4,"s":0.71},{"p":"F","g":"G","t":1.45,"s":0.71},{"p":"F","g":"G","t":1.52,"s":0.71},{"p":"F","g":"G","t":1.55,"s":0.71},{"p":"F","g":"G","t":1.6,"s":0.69},{"p":"F","g":"G","t":1.62,"s":0.69},{"p":"F","g":"G","t":1.7,"s":0.69},{"p":"F","g":"G","t":1.75,"s":0.69},{"p":"F","g":"G","t":1.8,"s":0.69},{"p":"F","g":"G","t":1.82,"s":0.69},{"p":"F","g":"G","t":1.85,"s":0.69},{"p":"F","g":"G","t":1.88,"s":0.69},{"p":"F","g":"G","t":1.92,"s":0.69},{"p":"F","g":"G","t":1.97,"s":0.69},{"p":"F","g":"G","t":2.16,"s":0.495},{"p":"F","g":"G","t":2.37,"s":0.495},{"p":"F","g":"G","t":2.49,"s":0.495},
      {"p":"F","g":"P","t":0.35,"s":0.81},{"p":"F","g":"P","t":0.45,"s":0.76},{"p":"F","g":"P","t":0.6,"s":0.71},{"p":"F","g":"P","t":0.8,"s":0.66},{"p":"F","g":"P","t":0.82,"s":0.66},{"p":"F","g":"P","t":0.85,"s":0.63},{"p":"F","g":"P","t":0.92,"s":0.615},{"p":"F","g":"P","t":0.95,"s":0.615},{"p":"F","g":"P","t":0.98,"s":0.615},{"p":"F","g":"P","t":1.1,"s":0.6},{"p":"F","g":"P","t":1.12,"s":0.6},{"p":"F","g":"P","t":1.15,"s":0.6},{"p":"F","g":"P","t":1.28,"s":0.56},{"p":"F","g":"P","t":1.3,"s":0.56},{"p":"F","g":"P","t":1.37,"s":0.54},{"p":"F","g":"P","t":1.45,"s":0.52},{"p":"F","g":"P","t":1.47,"s":0.52},{"p":"F","g":"P","t":1.6,"s":0.5},{"p":"F","g":"P","t":1.63,"s":0.5},{"p":"F","g":"P","t":1.67,"s":0.5},{"p":"F","g":"P","t":1.77,"s":0.5},{"p":"F","g":"P","t":1.8,"s":0.48},{"p":"F","g":"P","t":1.82,"s":0.48},{"p":"F","g":"P","t":1.92,"s":0.46},{"p":"F","g":"P","t":1.95,"s":0.46},{"p":"F","g":"P","t":2.08,"s":0.39},{"p":"F","g":"P","t":2.12,"s":0.39},{"p":"F","g":"P","t":2.16,"s":0.39},{"p":"F","g":"P","t":2.36,"s":0.39},{"p":"F","g":"P","t":2.38,"s":0.39},{"p":"F","g":"P","t":2.42,"s":0.39},{"p":"F","g":"P","t":2.73,"s":0.265},{"p":"F","g":"P","t":2.87,"s":0.265}
    ]
  },
  "columns": 2,
  "spacing": {"row": 164, "column": 109},
  "bounds": "flush",
  "concat": [
    {
      "width": 365, "height": 152,
      "title": {"text": ["DLBCL: Uni. Sel.", "LR-rank:p-value= 0.5854"]},
      "encoding": {
        "x": {"field": "t", "type": "quantitative", "scale": {"domain": [0, 2.99], "nice": false, "zero": false}, "axis": {"title": "Survival years", "values": [0, 0.5, 1, 1.5, 2, 2.5], "format": ".1f"}},
        "y": {"field": "s", "type": "quantitative", "scale": {"domain": [-0.04, 1.04], "nice": false, "zero": false}, "axis": {"title": "Survival probability", "values": [0, 0.2, 0.4, 0.6, 0.8, 1], "labelExpr": "(abs(datum.value) < 0.01 || abs(datum.value - 0.4) < 0.01 || abs(datum.value - 0.8) < 0.01) ? format(datum.value, '.1f') : ''"}},
        "color": {"field": "g", "type": "nominal", "scale": {"domain": ["G", "P"], "range": ["#0000FF", "#FF0000"]}, "legend": null}
      },
      "layer": [
        {"data": {"name": "km"}, "transform": [{"filter": "datum.p == 'A'"}], "mark": {"type": "line", "interpolate": "step-after", "strokeWidth": 1.7}, "encoding": {"strokeDash": {"field": "g", "type": "nominal", "scale": {"domain": ["G", "P"], "range": [[1, 0], [10, 5]]}, "legend": null}}},
        {"data": {"name": "cens"}, "transform": [{"filter": "datum.p == 'A'"}], "mark": {"type": "point", "shape": "M-1,0L1,0M0,-1L0,1", "size": 88, "strokeWidth": 1.6, "filled": false, "opacity": 1}}
      ]
    },
    {
      "width": 365, "height": 152,
      "title": {"text": ["DLBCL: Ordinary Lasso", "LR-rank:p-value= 0.222"]},
      "encoding": {
        "x": {"field": "t", "type": "quantitative", "scale": {"domain": [0, 2.99], "nice": false, "zero": false}, "axis": {"title": "Survival years", "values": [0, 0.5, 1, 1.5, 2, 2.5], "format": ".1f"}},
        "y": {"field": "s", "type": "quantitative", "scale": {"domain": [-0.04, 1.04], "nice": false, "zero": false}, "axis": {"title": "Survival probability", "values": [0, 0.2, 0.4, 0.6, 0.8, 1], "labelExpr": "(abs(datum.value) < 0.01 || abs(datum.value - 0.4) < 0.01 || abs(datum.value - 0.8) < 0.01) ? format(datum.value, '.1f') : ''"}},
        "color": {"field": "g", "type": "nominal", "scale": {"domain": ["G", "P"], "range": ["#0000FF", "#FF0000"]}, "legend": null}
      },
      "layer": [
        {"data": {"name": "km"}, "transform": [{"filter": "datum.p == 'B'"}], "mark": {"type": "line", "interpolate": "step-after", "strokeWidth": 1.7}, "encoding": {"strokeDash": {"field": "g", "type": "nominal", "scale": {"domain": ["G", "P"], "range": [[1, 0], [10, 5]]}, "legend": null}}},
        {"data": {"name": "cens"}, "transform": [{"filter": "datum.p == 'B'"}], "mark": {"type": "point", "shape": "M-1,0L1,0M0,-1L0,1", "size": 88, "strokeWidth": 1.6, "filled": false, "opacity": 1}}
      ]
    },
    {
      "width": 365, "height": 152,
      "title": {"text": ["DLBCL: Overlap Lasso", "LR-rank:p-value= 0.0152"]},
      "encoding": {
        "x": {"field": "t", "type": "quantitative", "scale": {"domain": [0, 2.99], "nice": false, "zero": false}, "axis": {"title": "Survival years", "values": [0, 0.5, 1, 1.5, 2, 2.5], "format": ".1f"}},
        "y": {"field": "s", "type": "quantitative", "scale": {"domain": [-0.04, 1.04], "nice": false, "zero": false}, "axis": {"title": "Survival probability", "values": [0, 0.2, 0.4, 0.6, 0.8, 1], "labelExpr": "(abs(datum.value) < 0.01 || abs(datum.value - 0.4) < 0.01 || abs(datum.value - 0.8) < 0.01) ? format(datum.value, '.1f') : ''"}},
        "color": {"field": "g", "type": "nominal", "scale": {"domain": ["G", "P"], "range": ["#0000FF", "#FF0000"]}, "legend": null}
      },
      "layer": [
        {"data": {"name": "km"}, "transform": [{"filter": "datum.p == 'C'"}], "mark": {"type": "line", "interpolate": "step-after", "strokeWidth": 1.7}, "encoding": {"strokeDash": {"field": "g", "type": "nominal", "scale": {"domain": ["G", "P"], "range": [[1, 0], [10, 5]]}, "legend": null}}},
        {"data": {"name": "cens"}, "transform": [{"filter": "datum.p == 'C'"}], "mark": {"type": "point", "shape": "M-1,0L1,0M0,-1L0,1", "size": 88, "strokeWidth": 1.6, "filled": false, "opacity": 1}}
      ]
    },
    {
      "width": 365, "height": 152,
      "title": {"text": ["DLBCL: TS-GSIS Lasso", "LR-rank:p-value= 0.4029"]},
      "encoding": {
        "x": {"field": "t", "type": "quantitative", "scale": {"domain": [0, 2.99], "nice": false, "zero": false}, "axis": {"title": "Survival years", "values": [0, 0.5, 1, 1.5, 2, 2.5], "format": ".1f"}},
        "y": {"field": "s", "type": "quantitative", "scale": {"domain": [-0.04, 1.04], "nice": false, "zero": false}, "axis": {"title": "Survival probability", "values": [0, 0.2, 0.4, 0.6, 0.8, 1], "labelExpr": "(abs(datum.value) < 0.01 || abs(datum.value - 0.4) < 0.01 || abs(datum.value - 0.8) < 0.01) ? format(datum.value, '.1f') : ''"}},
        "color": {"field": "g", "type": "nominal", "scale": {"domain": ["G", "P"], "range": ["#0000FF", "#FF0000"]}, "legend": null}
      },
      "layer": [
        {"data": {"name": "km"}, "transform": [{"filter": "datum.p == 'D'"}], "mark": {"type": "line", "interpolate": "step-after", "strokeWidth": 1.7}, "encoding": {"strokeDash": {"field": "g", "type": "nominal", "scale": {"domain": ["G", "P"], "range": [[1, 0], [10, 5]]}, "legend": null}}},
        {"data": {"name": "cens"}, "transform": [{"filter": "datum.p == 'D'"}], "mark": {"type": "point", "shape": "M-1,0L1,0M0,-1L0,1", "size": 88, "strokeWidth": 1.6, "filled": false, "opacity": 1}}
      ]
    },
    {
      "width": 365, "height": 152,
      "title": {"text": ["DLBCL: OGS Ridge", "LR-rank:p-value= 0.1945"]},
      "encoding": {
        "x": {"field": "t", "type": "quantitative", "scale": {"domain": [0, 2.99], "nice": false, "zero": false}, "axis": {"title": "Survival years", "values": [0, 0.5, 1, 1.5, 2, 2.5], "format": ".1f"}},
        "y": {"field": "s", "type": "quantitative", "scale": {"domain": [-0.04, 1.04], "nice": false, "zero": false}, "axis": {"title": "Survival probability", "values": [0, 0.2, 0.4, 0.6, 0.8, 1], "labelExpr": "(abs(datum.value) < 0.01 || abs(datum.value - 0.4) < 0.01 || abs(datum.value - 0.8) < 0.01) ? format(datum.value, '.1f') : ''"}},
        "color": {"field": "g", "type": "nominal", "scale": {"domain": ["G", "P"], "range": ["#0000FF", "#FF0000"]}, "legend": null}
      },
      "layer": [
        {"data": {"name": "km"}, "transform": [{"filter": "datum.p == 'E'"}], "mark": {"type": "line", "interpolate": "step-after", "strokeWidth": 1.7}, "encoding": {"strokeDash": {"field": "g", "type": "nominal", "scale": {"domain": ["G", "P"], "range": [[1, 0], [10, 5]]}, "legend": null}}},
        {"data": {"name": "cens"}, "transform": [{"filter": "datum.p == 'E'"}], "mark": {"type": "point", "shape": "M-1,0L1,0M0,-1L0,1", "size": 88, "strokeWidth": 1.6, "filled": false, "opacity": 1}}
      ]
    },
    {
      "width": 365, "height": 152,
      "title": {"text": ["DLBCL: OGS Lasso", "LR-rank:p-value= 0.0085"]},
      "encoding": {
        "x": {"field": "t", "type": "quantitative", "scale": {"domain": [0, 2.99], "nice": false, "zero": false}, "axis": {"title": "Survival years", "values": [0, 0.5, 1, 1.5, 2, 2.5], "format": ".1f"}},
        "y": {"field": "s", "type": "quantitative", "scale": {"domain": [-0.04, 1.04], "nice": false, "zero": false}, "axis": {"title": "Survival probability", "values": [0, 0.2, 0.4, 0.6, 0.8, 1], "labelExpr": "(abs(datum.value) < 0.01 || abs(datum.value - 0.4) < 0.01 || abs(datum.value - 0.8) < 0.01) ? format(datum.value, '.1f') : ''"}},
        "color": {"field": "g", "type": "nominal", "scale": {"domain": ["G", "P"], "range": ["#0000FF", "#FF0000"]}, "legend": null}
      },
      "layer": [
        {"data": {"name": "km"}, "transform": [{"filter": "datum.p == 'F'"}], "mark": {"type": "line", "interpolate": "step-after", "strokeWidth": 1.7}, "encoding": {"strokeDash": {"field": "g", "type": "nominal", "scale": {"domain": ["G", "P"], "range": [[1, 0], [10, 5]]}, "legend": null}}},
        {"data": {"name": "cens"}, "transform": [{"filter": "datum.p == 'F'"}], "mark": {"type": "point", "shape": "M-1,0L1,0M0,-1L0,1", "size": 88, "strokeWidth": 1.6, "filled": false, "opacity": 1}}
      ]
    }
  ],
  "config": {
    "view": {"stroke": "#1a1a1a", "strokeWidth": 1.6},
    "title": {"font": "Liberation Sans", "fontSize": 18.5, "fontWeight": "bold", "color": "#1a1a1a", "lineHeight": 18.5, "anchor": "middle", "frame": "group", "offset": 16},
    "axis": {"labelFont": "Liberation Sans", "labelFontSize": 15, "labelColor": "#222", "titleFont": "Liberation Sans", "titleFontSize": 15, "titleFontWeight": "normal", "titleColor": "#222", "tickColor": "#111", "tickSize": 7, "tickWidth": 1, "domain": false, "grid": false, "labelOverlap": false, "labelFlush": false},
    "axisX": {"labelPadding": 10, "titlePadding": 23},
    "axisY": {"labelAngle": -90, "labelAlign": "center", "labelBaseline": "bottom", "labelPadding": 11.5, "titlePadding": 21}
  }
}
